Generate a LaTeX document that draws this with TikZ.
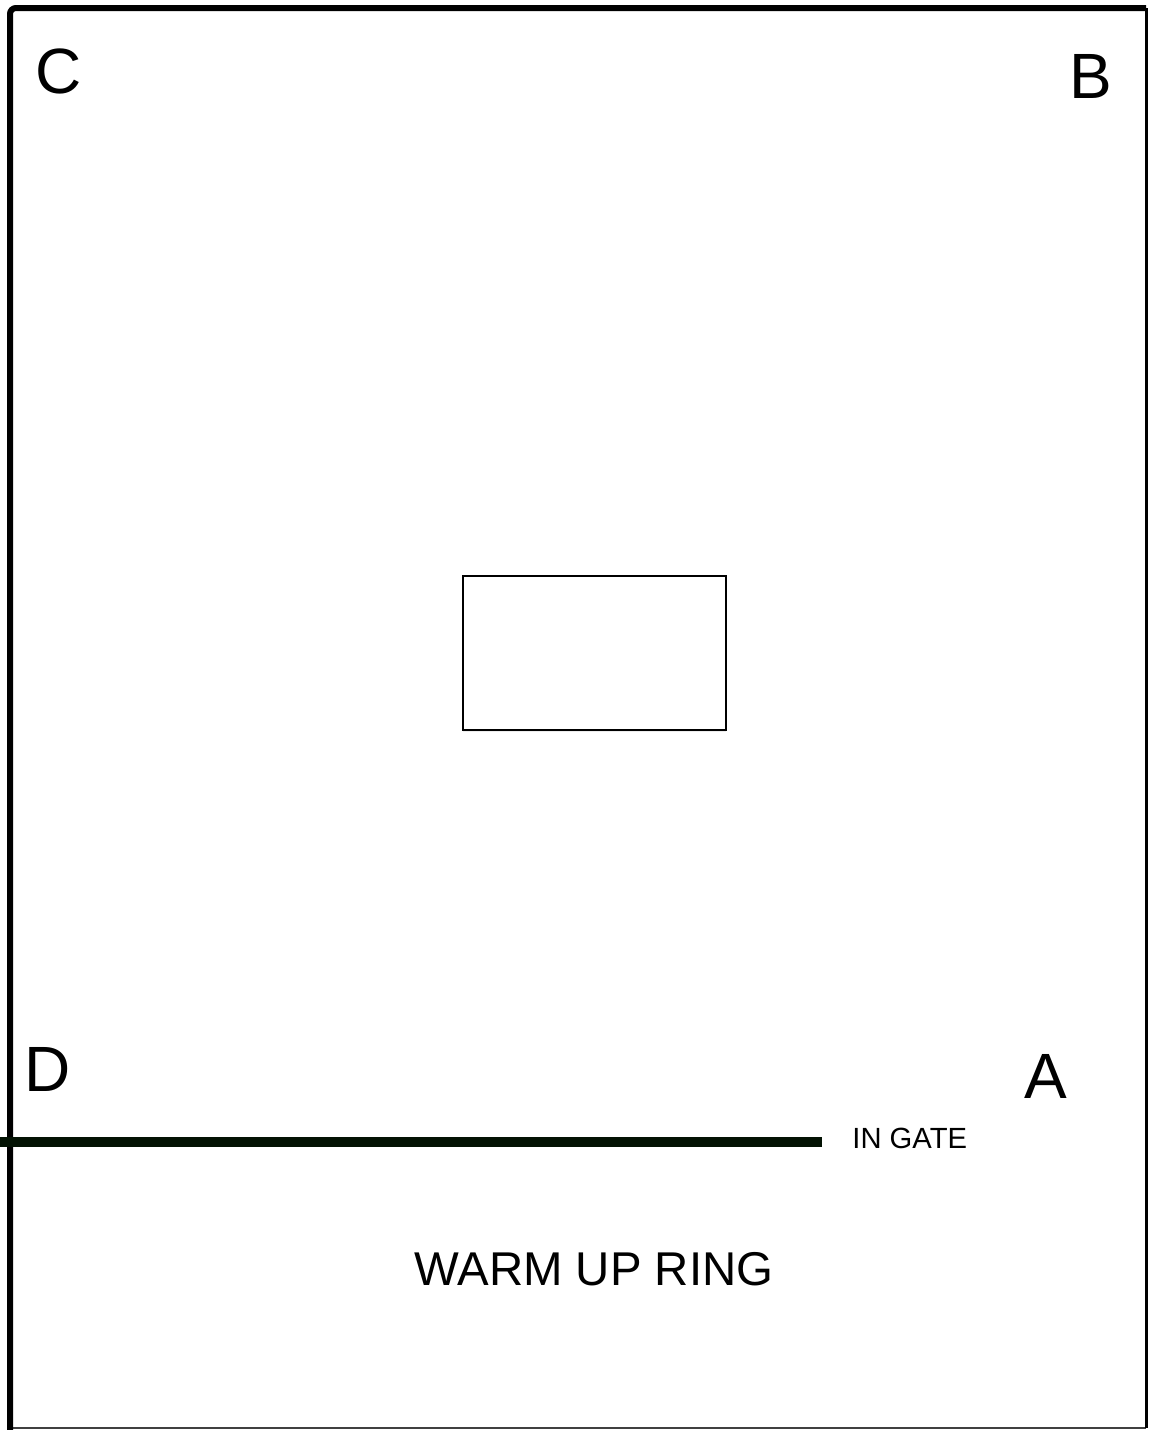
\documentclass[tikz,border=0pt]{standalone}
\usepackage{fontspec}
\setmainfont{Liberation Sans}
\usetikzlibrary{shadows}

\definecolor{gatecol}{HTML}{031203}

\tikzset{
	letter/.style={anchor=base, inner sep=0pt, font=\fontsize{32}{38}\selectfont},
}

\begin{document}
\begin{tikzpicture}[x=0.5pt, y=-0.5pt]

	\useasboundingbox (0,0) rectangle (1149,1430);

	% arena fence
	\draw[line width=1pt, black!75] (10,1428) -- (1146,1428);
	\draw[line width=1.5pt] (1146,8) -- (1146,1428);
	\draw[line width=3pt, rounded corners=3pt] (10,1430) -- (10,8) -- (1146,8);

	% centre box
	\draw[line width=1pt, fill=white, drop shadow={shadow xshift=0pt, shadow yshift=-1pt, opacity=0.15}]
		(463,576) rectangle (726,730);

	% letters
	\node[letter] (C) at (59,93) {C};
	\node[letter] (B) at (1091,98) {B};
	\node[letter] (D) at (48,1091) {D};
	\node[letter] (A) at (1046,1098) {A};

	% gate
	\coordinate (gateW) at (0,1142);
	\coordinate (gateE) at (822,1142);
	\draw[line width=5pt, gatecol] (gateW) -- (gateE);
	\node[anchor=base west, inner sep=0pt, font=\fontsize{14.6}{17}\selectfont] (ingate) at (852,1148) {IN GATE};

	\node[anchor=base, inner sep=0pt, font=\fontsize{23.7}{28}\selectfont] (warmup) at (594,1285) {WARM UP RING};

\end{tikzpicture}
\end{document}
